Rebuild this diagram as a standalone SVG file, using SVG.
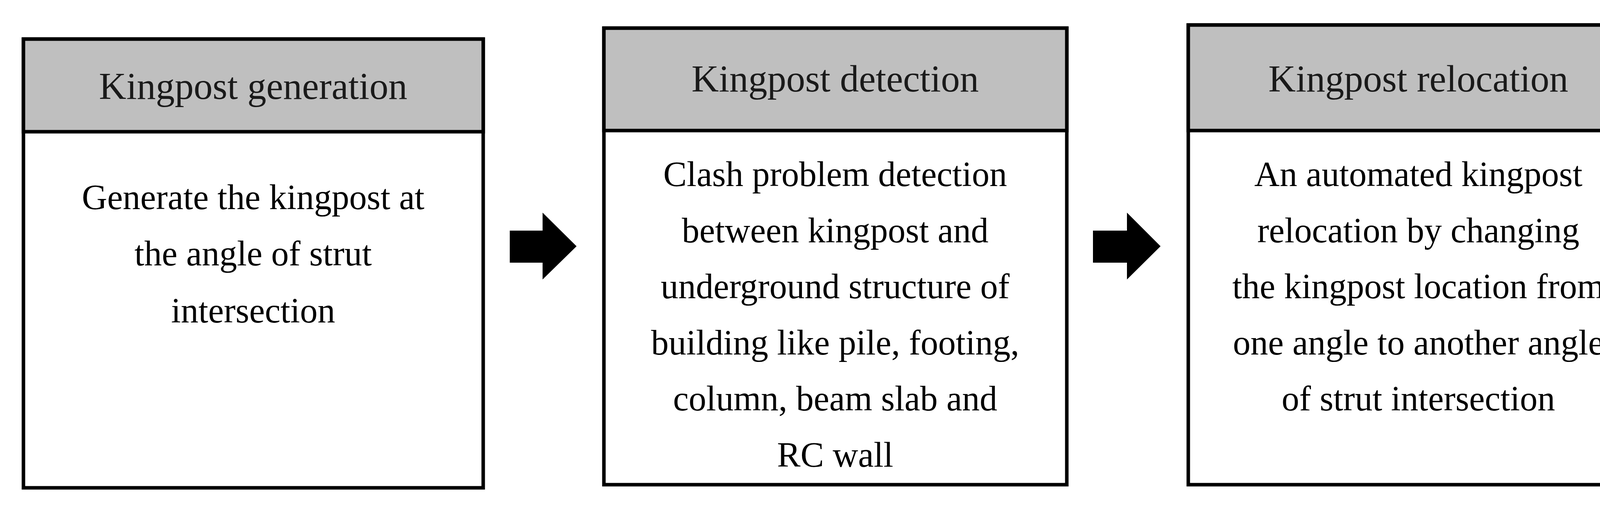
<svg xmlns="http://www.w3.org/2000/svg" width="4288" height="1315" viewBox="0 0 4288 1315">
<style>
.box{fill:#fff;stroke:#000;stroke-width:9}
.hdr{fill:#bfbfbf;stroke:#000;stroke-width:9}
text{font-family:"Liberation Serif","DejaVu Serif",serif;font-size:90px;fill:#000;text-anchor:middle}
.t{font-size:97px;fill:#1a1a1a}
.arr{fill:#000}
</style>
<rect width="4288" height="1315" fill="#fff"/>
<g id="node1">
<rect class="box" x="60" y="100" width="1177" height="1148"/>
<rect class="hdr" x="60" y="100" width="1177" height="237"/>
<text class="t" x="648" y="253">Kingpost generation</text>
<text x="648" y="535">Generate the kingpost at</text>
<text x="648" y="679">the angle of strut</text>
<text x="648" y="825">intersection</text>
</g>
<g id="node2">
<rect class="box" x="1546" y="72" width="1185" height="1168"/>
<rect class="hdr" x="1546" y="72" width="1185" height="262"/>
<text class="t" x="2138" y="234">Kingpost detection</text>
<text x="2138" y="476">Clash problem detection</text>
<text x="2138" y="620">between kingpost and</text>
<text x="2138" y="763">underground structure of</text>
<text x="2138" y="907">building like pile, footing,</text>
<text x="2138" y="1050">column, beam slab and</text>
<text x="2138" y="1194">RC wall</text>
</g>
<g id="node3">
<rect class="box" x="3042" y="64" width="1179" height="1176"/>
<rect class="hdr" x="3042" y="64" width="1179" height="270"/>
<text class="t" x="3631" y="234">Kingpost relocation</text>
<text x="3631" y="476">An automated kingpost</text>
<text x="3631" y="620">relocation by changing</text>
<text x="3631" y="763">the kingpost location from</text>
<text x="3631" y="907">one angle to another angle</text>
<text x="3631" y="1050">of strut intersection</text>
</g>
<g id="connectors">
<polygon class="arr" points="1305,590 1389,590 1389,544 1476,630 1389,715 1389,672 1305,672"/>
<polygon class="arr" points="2798,590 2885,590 2885,544 2971,630 2885,715 2885,672 2798,672"/>
</g>
</svg>
